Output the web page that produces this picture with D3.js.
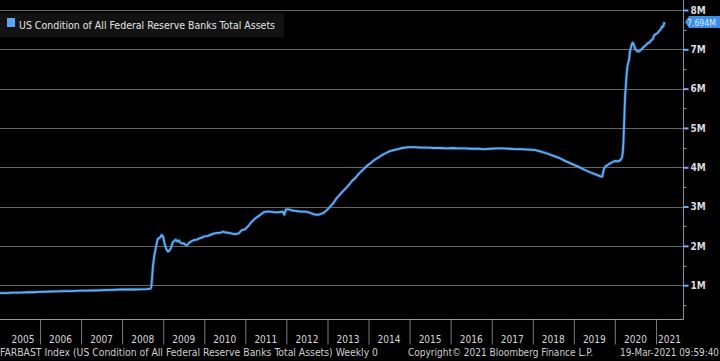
<!DOCTYPE html>
<html><head><meta charset="utf-8">
<script src="https://cdn.jsdelivr.net/npm/d3@7"></script>
<style>
html,body{margin:0;padding:0;background:#000;}
svg{display:block;}
text{font-family:"DejaVu Sans Condensed","DejaVu Sans",sans-serif;}
</style></head>
<body>
<svg id="chart" width="720" height="361"></svg>
<script>
const seriesName = "US Condition of All Federal Reserve Banks Total Assets";
const dates = [
"2005-01-05","2005-03-02","2005-05-04","2005-07-06","2005-09-07","2005-11-02","2005-12-28",
"2006-02-01","2006-04-05","2006-06-07","2006-08-02","2006-10-04","2006-12-27",
"2007-02-07","2007-04-04","2007-06-06","2007-08-01","2007-10-03","2007-12-26",
"2008-02-06","2008-04-02","2008-06-04","2008-08-06","2008-09-10","2008-09-17","2008-09-24",
"2008-10-01","2008-10-15","2008-10-29","2008-11-12","2008-11-26","2008-12-10","2008-12-17","2008-12-31",
"2009-01-14","2009-01-28","2009-02-11","2009-02-25","2009-03-11","2009-03-25","2009-04-08","2009-04-22",
"2009-05-06","2009-05-20","2009-06-03","2009-06-17","2009-07-01","2009-07-15","2009-07-29","2009-08-12",
"2009-08-26","2009-09-16","2009-10-07","2009-10-28","2009-11-18","2009-12-09","2009-12-30",
"2010-01-27","2010-02-24","2010-03-24","2010-04-21","2010-05-19","2010-06-16","2010-07-14","2010-08-11",
"2010-09-08","2010-10-06","2010-11-03","2010-12-01","2010-12-29",
"2011-01-26","2011-02-23","2011-03-23","2011-04-20","2011-05-18","2011-06-15","2011-07-13","2011-08-10",
"2011-09-07","2011-10-05","2011-11-02","2011-11-30","2011-12-14","2011-12-28",
"2012-01-25","2012-02-22","2012-03-21","2012-04-18","2012-05-16","2012-06-13","2012-07-11","2012-08-08",
"2012-09-05","2012-10-03","2012-10-31","2012-11-28","2012-12-26",
"2013-01-23","2013-02-20","2013-03-20","2013-04-17","2013-05-15","2013-06-12","2013-07-10","2013-08-07",
"2013-09-04","2013-10-02","2013-10-30","2013-11-27","2013-12-25",
"2014-01-22","2014-02-19","2014-03-19","2014-04-16","2014-05-14","2014-06-11","2014-07-09","2014-08-06",
"2014-09-03","2014-10-01","2014-10-29","2014-12-24",
"2015-02-18","2015-04-15","2015-06-10","2015-08-05","2015-09-30","2015-11-25",
"2016-01-20","2016-03-16","2016-05-11","2016-07-06","2016-08-31","2016-10-26","2016-12-21",
"2017-02-15","2017-04-12","2017-06-07","2017-08-02","2017-09-27","2017-11-22",
"2018-01-17","2018-03-14","2018-05-09","2018-07-04","2018-08-29","2018-10-24","2018-12-19",
"2019-02-13","2019-04-10","2019-06-05","2019-07-31","2019-08-28","2019-09-11","2019-09-25","2019-10-09",
"2019-10-30","2019-11-20","2019-12-18",
"2020-01-08","2020-01-29","2020-02-19","2020-03-04","2020-03-11","2020-03-18","2020-03-25","2020-04-01",
"2020-04-08","2020-04-15","2020-04-22","2020-04-29","2020-05-06","2020-05-13","2020-05-20","2020-05-27",
"2020-06-03","2020-06-10","2020-06-17","2020-06-24","2020-07-01","2020-07-15","2020-07-29","2020-08-12",
"2020-08-26","2020-09-09","2020-09-23","2020-10-07","2020-10-21","2020-11-04","2020-11-18","2020-12-02",
"2020-12-16","2020-12-30",
"2021-01-13","2021-01-27","2021-02-10","2021-02-24","2021-03-03","2021-03-10","2021-03-17"
];
const values = [
0.80,0.80,0.81,0.81,0.82,0.82,0.83,
0.83,0.84,0.845,0.85,0.85,0.86,
0.86,0.865,0.87,0.875,0.88,0.89,
0.89,0.89,0.895,0.90,0.91,0.96,1.20,
1.48,1.78,1.98,2.17,2.20,2.23,2.28,2.24,
2.05,1.92,1.86,1.88,1.95,2.08,2.12,2.16,
2.11,2.14,2.08,2.06,2.07,2.03,2.01,2.06,
2.09,2.13,2.15,2.16,2.19,2.21,2.24,
2.25,2.28,2.31,2.33,2.33,2.36,2.34,2.33,
2.31,2.30,2.32,2.40,2.42,
2.50,2.60,2.68,2.74,2.80,2.86,2.87,2.87,
2.86,2.85,2.86,2.87,2.79,2.93,
2.93,2.90,2.89,2.88,2.87,2.87,2.86,2.83,
2.80,2.79,2.81,2.84,2.91,
2.99,3.08,3.20,3.29,3.38,3.46,3.55,3.65,
3.72,3.82,3.90,3.98,4.05,
4.11,4.18,4.23,4.28,4.33,4.37,4.41,4.43,
4.45,4.47,4.49,4.51,
4.51,4.50,4.50,4.49,4.49,4.48,
4.49,4.48,4.48,4.47,4.47,4.46,4.47,
4.48,4.48,4.47,4.46,4.46,4.45,
4.44,4.40,4.35,4.29,4.23,4.15,4.08,
4.01,3.93,3.86,3.80,3.77,3.76,3.95,4.02,
4.06,4.10,4.14,
4.16,4.15,4.18,4.24,4.36,4.67,5.25,5.81,
6.08,6.37,6.57,6.66,6.72,6.93,7.00,7.09,
7.15,7.17,7.11,7.07,7.00,6.96,6.94,6.97,
7.00,7.05,7.08,7.12,7.16,7.17,7.23,7.25,
7.36,7.39,
7.41,7.46,7.50,7.58,7.57,7.61,7.694
];
const yTicks = [1,2,3,4,5,6,7,8];
const yMinor = [0.5,1.5,2.5,3.5,4.5,5.5,6.5,7.5];
const years = d3.range(2005, 2022);
const lastLabel = "7.694M";
const footerLeft = "FARBAST Index (US Condition of All Federal Reserve Banks Total Assets)  Weekly 0";
const footerMid = "Copyright\u00A9 2021 Bloomberg Finance L.P.";
const footerRight = "19-Mar-2021 09:59:40";

const parse = d3.timeParse("%Y-%m-%d");
const data = dates.map((d,i)=>({date:parse(d), value:values[i]}));

const svg = d3.select("#chart");
const W = 720, H = 361;
const plotRight = 683, plotBottom = 319;

svg.append("rect").attr("width",W).attr("height",H).attr("fill","#000");

const x = d3.scaleTime()
  .domain([new Date(2005,0,1), new Date(2021,0,1)])
  .range([-1, 656]);
const y = d3.scaleLinear().domain([0,8]).range([324.5, 10]);

// gridlines
svg.append("g").selectAll("line").data(yTicks).join("line")
  .attr("x1",0).attr("x2",plotRight)
  .attr("y1",d=>Math.round(y(d))+0.5).attr("y2",d=>Math.round(y(d))+0.5)
  .attr("stroke","#646464").attr("stroke-width",1);

// legend box
svg.append("rect").attr("x",0).attr("y",13).attr("width",284).attr("height",24).attr("fill","#121212");
svg.append("rect").attr("x",7).attr("y",18).attr("width",8).attr("height",9).attr("fill","#5aa6f5");
svg.append("text").attr("x",19).attr("y",29).attr("fill","#e4e4e4")
  .attr("font-size",10.5).attr("textLength",256).attr("lengthAdjust","spacingAndGlyphs")
  .text(seriesName);

// line
const line = d3.line().x(d=>x(d.date)).y(d=>y(d.value)).curve(d3.curveLinear);
svg.append("path").datum(data).attr("d",line)
  .attr("fill","none").attr("stroke","#2a5f9e").attr("stroke-width",3.5).attr("stroke-opacity",0.5)
  .attr("stroke-linejoin","round");
svg.append("path").datum(data).attr("d",line)
  .attr("fill","none").attr("stroke","#64aef5").attr("stroke-width",1.8)
  .attr("stroke-linejoin","round");

// frame
svg.append("line").attr("x1",0).attr("x2",plotRight+0.5).attr("y1",plotBottom+0.5).attr("y2",plotBottom+0.5)
  .attr("stroke","#9a9a9a").attr("stroke-width",1);
svg.append("line").attr("x1",plotRight+0.5).attr("x2",plotRight+0.5).attr("y1",0).attr("y2",plotBottom+0.5)
  .attr("stroke","#7f8fa6").attr("stroke-width",1);

// right axis
const yAxis = d3.axisRight(y).tickValues(yTicks).tickFormat(d=>d+"M").tickSize(5).tickPadding(2);
const gy = svg.append("g").attr("transform",`translate(${plotRight+0.5},0)`).call(yAxis);
gy.select(".domain").remove();
gy.selectAll(".tick line").attr("stroke","#6fb0f0").attr("stroke-width",2);
gy.selectAll(".tick text").attr("fill","#dcdcdc").attr("font-size",10).attr("font-weight","bold")
  .attr("font-family","'DejaVu Sans Condensed','DejaVu Sans',sans-serif");
svg.append("g").selectAll("line").data(yMinor).join("line")
  .attr("x1",plotRight+0.5).attr("x2",plotRight+3.5)
  .attr("y1",d=>Math.round(y(d))+0.5).attr("y2",d=>Math.round(y(d))+0.5)
  .attr("stroke","#7f8fa6");

// last value label
const lastY = y(values[values.length-1]);
const lbl = svg.append("g");
lbl.append("path")
  .attr("d",`M${plotRight+2},${lastY} L${plotRight+6},${lastY-6} L${W},${lastY-6} L${W},${lastY+6} L${plotRight+6},${lastY+6} Z`)
  .attr("fill","#3f8fe4");
lbl.append("text").attr("x",plotRight+4).attr("y",lastY+3.5).attr("fill","#d6ebff")
  .attr("font-size",9.5)
  .attr("textLength",29).attr("lengthAdjust","spacingAndGlyphs").text(lastLabel);

// bottom axis (year separators)
const xAxis = d3.axisBottom(x).tickValues(years.slice(1).map(yr=>new Date(yr,0,1))).tickSize(25).tickFormat("");
const gx = svg.append("g").attr("transform",`translate(0,${plotBottom+0.5})`).call(xAxis);
gx.select(".domain").remove();
gx.selectAll(".tick line").attr("stroke","#7a7a7a");

svg.append("g").selectAll("text").data(years).join("text")
  .attr("x",yr=>{
    const a = Math.max(0, x(new Date(yr,0,1)));
    const b = Math.min(plotRight, x(new Date(yr+1,0,1)));
    return (a+b)/2 + (yr===2005?3:0);
  })
  .attr("y",343).attr("text-anchor","middle").attr("fill","#d8d8d8").attr("font-size",10)
  .text(yr=>yr);

// footer
const ft = svg.append("g").attr("fill","#cfcfcf").attr("font-size",10);
ft.append("text").attr("x",0).attr("y",356).attr("textLength",378).attr("lengthAdjust","spacingAndGlyphs").text(footerLeft);
ft.append("text").attr("x",408).attr("y",356).attr("textLength",185).attr("lengthAdjust","spacingAndGlyphs").text(footerMid);
ft.append("text").attr("x",620).attr("y",356).attr("textLength",99).attr("lengthAdjust","spacingAndGlyphs").text(footerRight);
</script>
</body></html>
